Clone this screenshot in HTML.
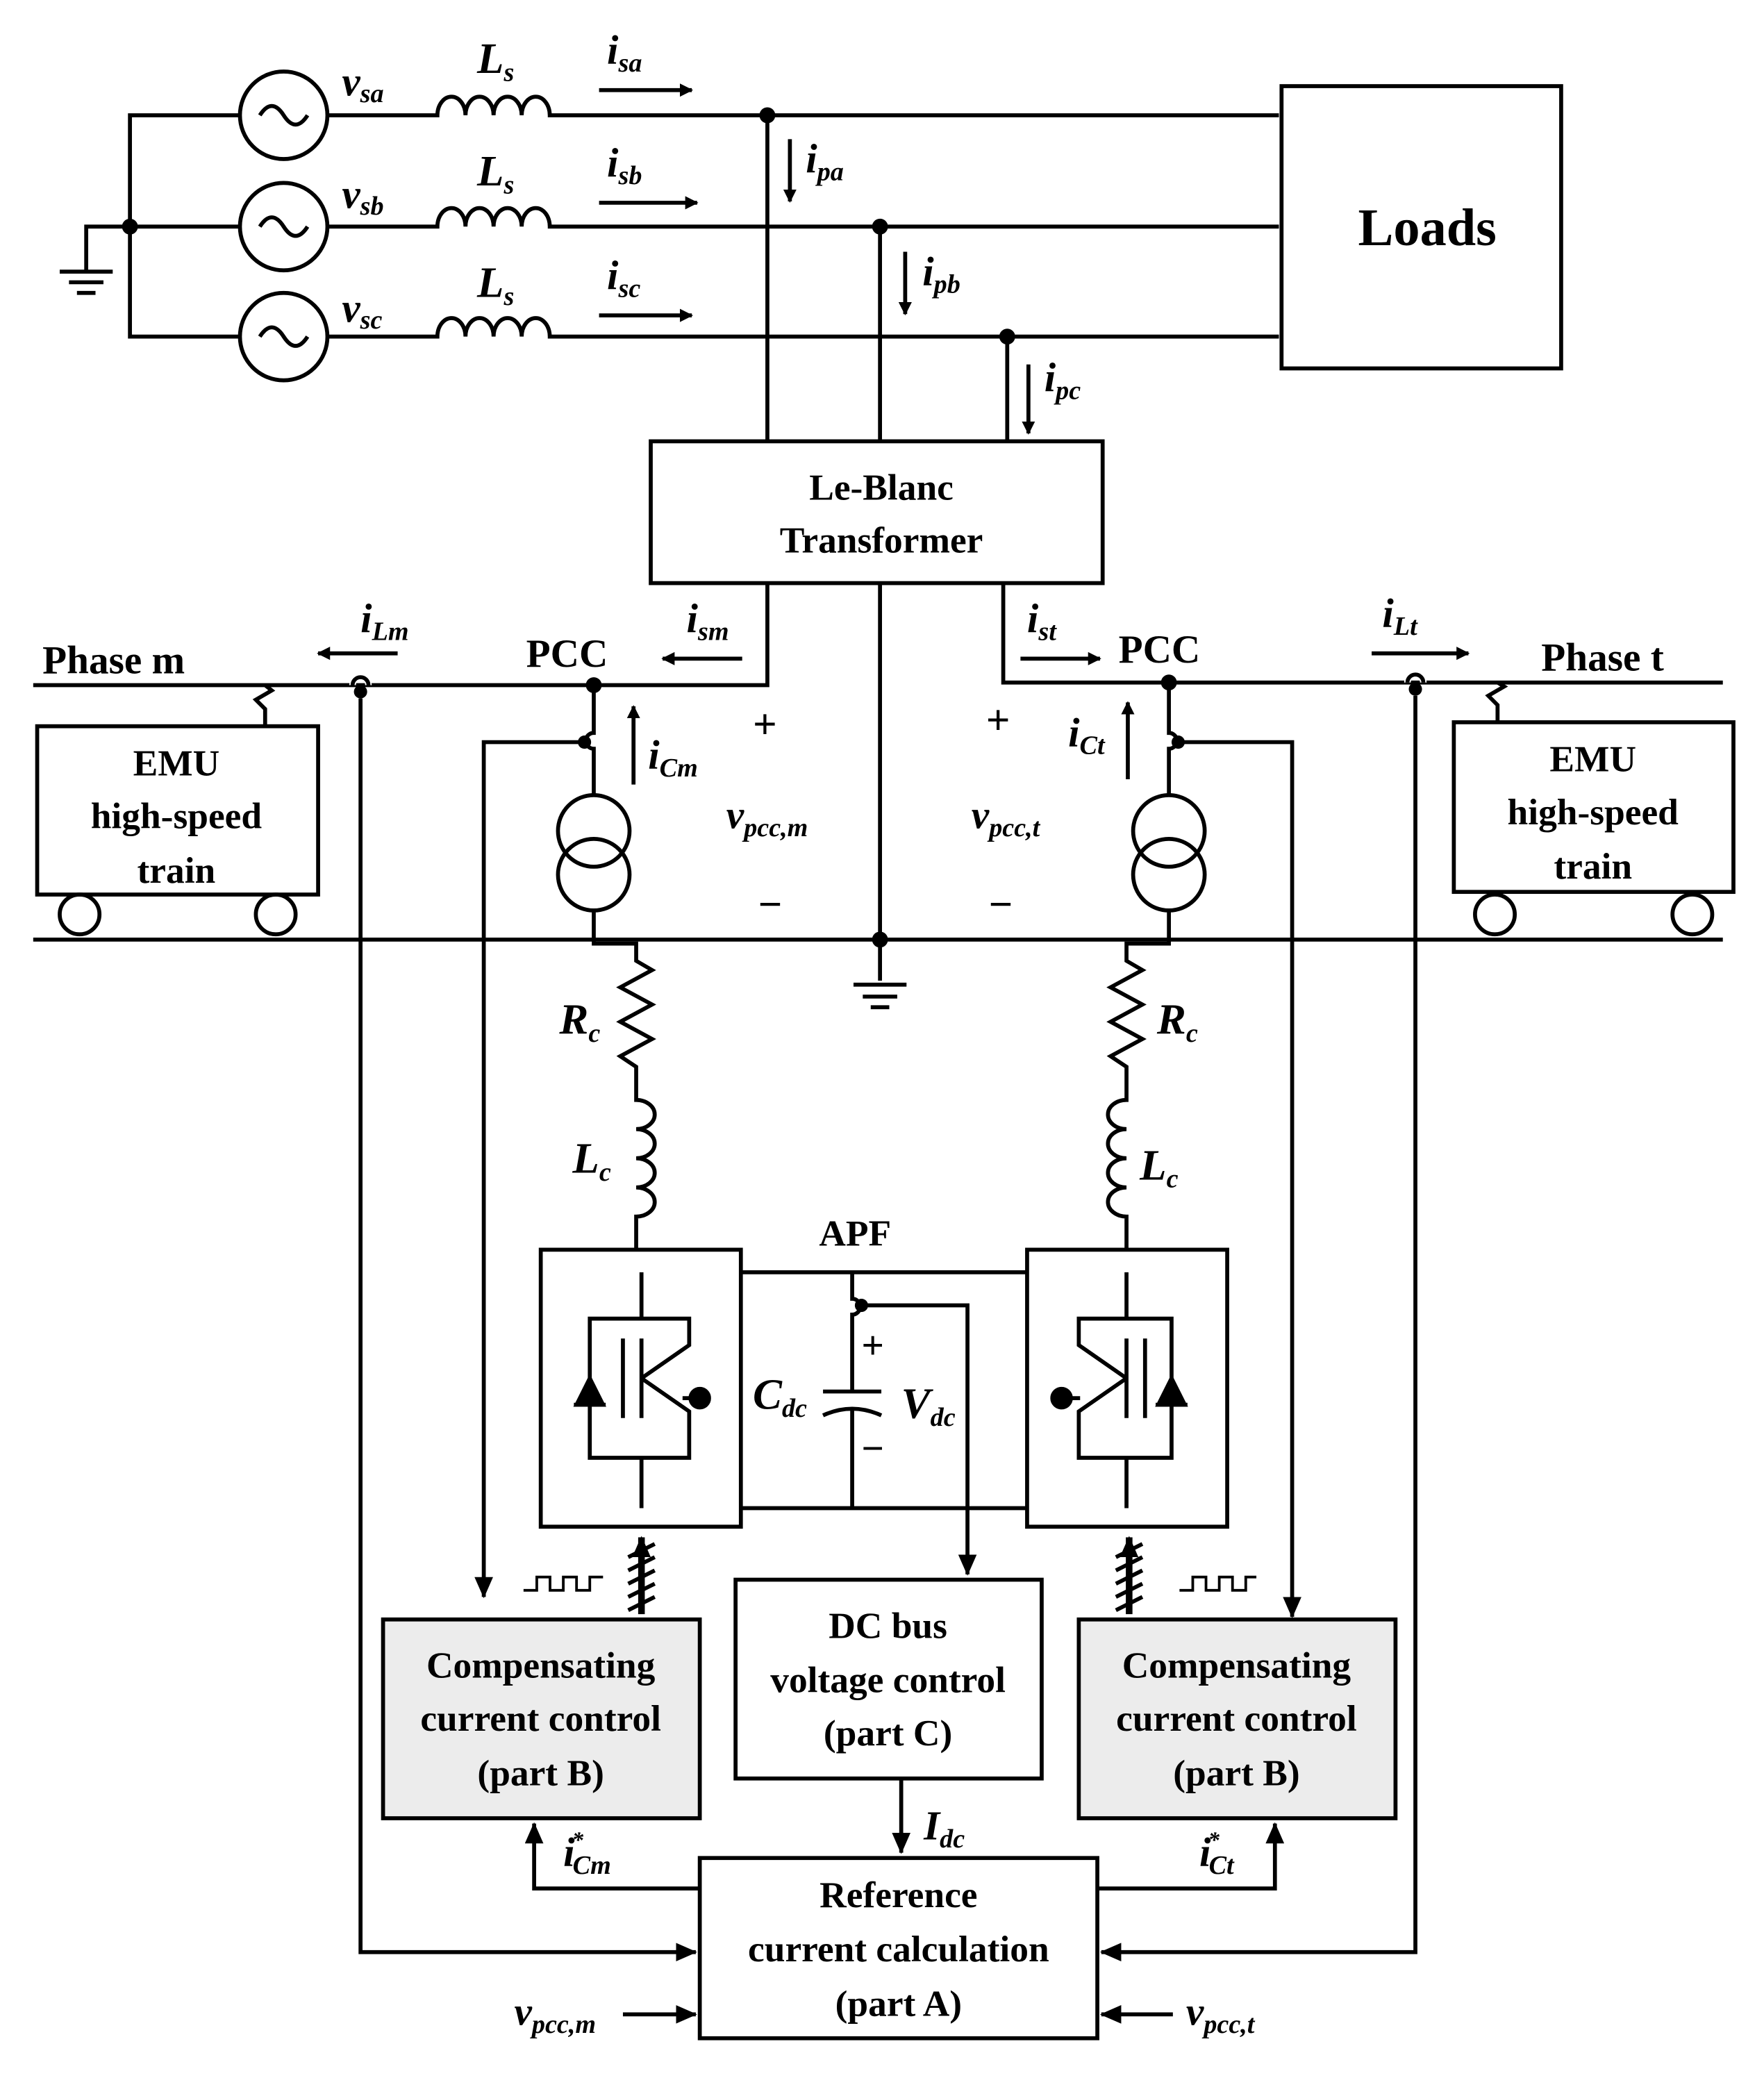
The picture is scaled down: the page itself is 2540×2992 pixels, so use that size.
<!DOCTYPE html>
<html><head><meta charset="utf-8"><style>
html,body{margin:0;padding:0;background:#fff}
svg{display:block}
text{font-family:"Liberation Serif",serif;font-weight:bold;fill:#000}
.it{font-style:italic}
</style></head><body>
<svg width="2540" height="2992" viewBox="0 0 1331 1568" xmlns="http://www.w3.org/2000/svg">
<defs>
<marker id="a" markerWidth="10" markerHeight="10" refX="9" refY="5" orient="auto" markerUnits="userSpaceOnUse"><path d="M0,0 L10,5 L0,10 z" fill="#000"/></marker>
<marker id="b" markerWidth="16" markerHeight="14" refX="15" refY="7" orient="auto" markerUnits="userSpaceOnUse"><path d="M0,0 L16,7 L0,14 z" fill="#000"/></marker>
</defs>
<g stroke="#000" stroke-width="3" fill="none">
<circle cx="214" cy="87" r="33"/><circle cx="214" cy="171" r="33"/><circle cx="214" cy="254" r="33"/>
<path d="M196,87 q9,-14 18,0 t18,0"/><path d="M196,171 q9,-14 18,0 t18,0"/><path d="M196,254 q9,-14 18,0 t18,0"/>
<path d="M181,87 H98 V254 H181 M98,171 H181 M98,171 H65 V205 M45,205 H85 M52,213 H78 M58,221 H72"/>
<path d="M247,87 H330 a10.6,14 0 0 1 21.2,0 a10.6,14 0 0 1 21.2,0 a10.6,14 0 0 1 21.2,0 a10.6,14 0 0 1 21.2,0 H965"/>
<path d="M247,171 H330 a10.6,14 0 0 1 21.2,0 a10.6,14 0 0 1 21.2,0 a10.6,14 0 0 1 21.2,0 a10.6,14 0 0 1 21.2,0 H965"/>
<path d="M247,254 H330 a10.6,14 0 0 1 21.2,0 a10.6,14 0 0 1 21.2,0 a10.6,14 0 0 1 21.2,0 a10.6,14 0 0 1 21.2,0 H965"/>
<path d="M579,87 V333 M664,171 V333 M760,254 V333"/>
<rect x="967" y="65" width="211" height="213"/>
<rect x="491" y="333" width="341" height="107"/>
<path d="M579,440 V517 H25 M757,440 V515 H1300 M664,440 V740 M644,743 H684 M651,752 H677 M657,760 H671"/>
<path d="M25,709 H1300"/>
<rect x="28" y="548" width="212" height="127"/><circle cx="60" cy="690" r="15"/><circle cx="208" cy="690" r="15"/>
<path d="M200,548 V535 L193,528 L205,521 L200,517"/>
<rect x="1097" y="545" width="211" height="128"/><circle cx="1128" cy="690" r="15"/><circle cx="1277" cy="690" r="15"/>
<path d="M1130,545 V532 L1123,525 L1135,518 L1130,515"/>
<path d="M272,527 V1473 H525" marker-end="url(#b)"/>
<path d="M1068,525 V1473 H831" marker-end="url(#b)"/>
<path d="M448,517 V553 a6,6 0 0 0 0,12 V600"/>
<circle cx="448" cy="627" r="27"/><circle cx="448" cy="660" r="27"/>
<path d="M448,687 V712 H480 V725 L492,732 L468,745 L492,758 L468,771 L492,784 L468,797 L480,805 V830 a14,11 0 0 1 0,22 a14,11 0 0 1 0,22 a14,11 0 0 1 0,22 a14,11 0 0 1 0,22 V943"/>
<path d="M441,560 H365 V1205" marker-end="url(#b)"/>
<path d="M882,515 V553 a6,6 0 0 1 0,12 V600"/>
<circle cx="882" cy="627" r="27"/><circle cx="882" cy="660" r="27"/>
<path d="M882,687 V712 H850 V725 L862,732 L838,745 L862,758 L838,771 L862,784 L838,797 L850,805 V830 a14,11 0 0 0 0,22 a14,11 0 0 0 0,22 a14,11 0 0 0 0,22 a14,11 0 0 0 0,22 V943"/>
<path d="M889,560 H975 V1220" marker-end="url(#b)"/>
<rect x="408" y="943" width="151" height="209"/>
<rect x="775" y="943" width="151" height="209"/>
<path d="M559,960 H775 M559,1138 H775"/>
<path d="M643,960 V980 a6,6 0 0 1 0,12 V1050 M621,1050 H665 M621,1068 q22,-10 44,0 M643,1064 V1138"/>
<path d="M650,985 H730 V1188" marker-end="url(#b)"/>
<path d="M484,960 V995 M484,1100 V1138 M470,1010 V1070 M484,1010 V1070 M484,1040 L520,1015 V995 H484 M484,1040 L520,1065 V1100 H484 M484,995 H445 V1100 H484 M515,1055 H530"/>
<path d="M433,1060 H457 M445,1040 L435,1060 H455 Z" fill="#000"/>
<circle cx="528" cy="1055" r="7" fill="#000"/>
<path d="M850,960 V995 M850,1100 V1138 M864,1010 V1070 M850,1010 V1070 M850,1040 L814,1015 V995 H850 M850,1040 L814,1065 V1100 H850 M850,995 H884 V1100 H850 M800,1055 H815"/>
<path d="M872,1060 H896 M884,1040 L874,1060 H894 Z" fill="#000"/>
<circle cx="801" cy="1055" r="7" fill="#000"/>
<rect x="289" y="1222" width="239" height="150" fill="#ececec"/>
<rect x="814" y="1222" width="239" height="150" fill="#ececec"/>
<rect x="555" y="1192" width="231" height="150"/>
<rect x="528" y="1402" width="300" height="136"/>
<path d="M680,1342 V1398" marker-end="url(#b)"/>
<path d="M528,1425 H403 V1376" marker-end="url(#b)"/>
<path d="M828,1425 H962 V1376" marker-end="url(#b)"/>
<path d="M470,1520 H525" marker-end="url(#b)"/>
<path d="M885,1520 H831" marker-end="url(#b)"/>
<path d="M484,1218 V1160" marker-end="url(#b)" stroke-width="5"/>
<path d="M474,1175 L494,1165 M474,1185 L494,1175 M474,1195 L494,1185 M474,1205 L494,1195 M474,1215 L494,1205"/>
<path d="M852,1218 V1160" marker-end="url(#b)" stroke-width="5"/>
<path d="M842,1175 L862,1165 M842,1185 L862,1175 M842,1195 L862,1185 M842,1205 L862,1195 M842,1215 L862,1205"/>
<path d="M395,1200 H405 V1190 H415 V1200 H425 V1190 H435 V1200 H445 V1190 H455" stroke-width="2"/>
<path d="M890,1200 H900 V1190 H910 V1200 H920 V1190 H930 V1200 H940 V1190 H948" stroke-width="2"/>
<path d="M452,68 H522" marker-end="url(#a)"/><path d="M452,153 H526" marker-end="url(#a)"/><path d="M452,238 H522" marker-end="url(#a)"/>
<path d="M596,105 V152" marker-end="url(#a)"/><path d="M683,190 V237" marker-end="url(#a)"/><path d="M776,275 V327" marker-end="url(#a)"/>
<path d="M560,497 H500" marker-end="url(#a)"/><path d="M300,493 H240" marker-end="url(#a)"/>
<path d="M770,497 H830" marker-end="url(#a)"/><path d="M1035,493 H1108" marker-end="url(#a)"/>
<path d="M478,592 V533" marker-end="url(#a)"/><path d="M851,588 V530" marker-end="url(#a)"/>
</g>
<g stroke="#000" stroke-width="3" fill="none">
<path d="M266,517 a6,6 0 0 1 12,0" stroke="#fff" stroke-width="5"/><path d="M266,517 a6,6 0 0 1 12,0"/>
<path d="M1062,515 a6,6 0 0 1 12,0" stroke="#fff" stroke-width="5"/><path d="M1062,515 a6,6 0 0 1 12,0"/>
</g>
<g fill="#000">
<circle cx="98" cy="171" r="6"/><circle cx="579" cy="87" r="6"/><circle cx="664" cy="171" r="6"/><circle cx="760" cy="254" r="6"/>
<circle cx="448" cy="517" r="6"/><circle cx="882" cy="515" r="6"/><circle cx="664" cy="709" r="6"/>
<circle cx="272" cy="522" r="5"/><circle cx="1068" cy="520" r="5"/>
<circle cx="441" cy="560" r="5"/><circle cx="889" cy="560" r="5"/><circle cx="650" cy="985" r="5"/>
</g>
<g font-size="28">
<text x="258" y="72" class="it" font-size="31">v<tspan font-size="20" dy="5">sa</tspan></text>
<text x="258" y="157" class="it" font-size="31">v<tspan font-size="20" dy="5">sb</tspan></text>
<text x="258" y="243" class="it" font-size="31">v<tspan font-size="20" dy="5">sc</tspan></text>
<text x="360" y="55" class="it" font-size="33">L<tspan font-size="20" dy="6">s</tspan></text>
<text x="360" y="140" class="it" font-size="33">L<tspan font-size="20" dy="6">s</tspan></text>
<text x="360" y="224" class="it" font-size="33">L<tspan font-size="20" dy="6">s</tspan></text>
<text x="458" y="48" class="it" font-size="31">i<tspan font-size="20" dy="6">sa</tspan></text>
<text x="458" y="133" class="it" font-size="31">i<tspan font-size="20" dy="6">sb</tspan></text>
<text x="458" y="218" class="it" font-size="31">i<tspan font-size="20" dy="6">sc</tspan></text>
<text x="608" y="130" class="it" font-size="31">i<tspan font-size="20" dy="6">pa</tspan></text>
<text x="696" y="215" class="it" font-size="31">i<tspan font-size="20" dy="6">pb</tspan></text>
<text x="788" y="295" class="it" font-size="31">i<tspan font-size="20" dy="6">pc</tspan></text>
<text x="1077" y="185" font-size="40" text-anchor="middle">Loads</text>
<text x="665" y="377" text-anchor="middle">Le-Blanc</text>
<text x="665" y="417" text-anchor="middle">Transformer</text>
<text x="32" y="508" font-size="30">Phase m</text>
<text x="1163" y="506" font-size="30">Phase t</text>
<text x="397" y="503" font-size="30">PCC</text>
<text x="844" y="500" font-size="30">PCC</text>
<text x="272" y="477" class="it" font-size="31">i<tspan font-size="20" dy="6">Lm</tspan></text>
<text x="518" y="477" class="it" font-size="31">i<tspan font-size="20" dy="6">sm</tspan></text>
<text x="775" y="477" class="it" font-size="31">i<tspan font-size="20" dy="6">st</tspan></text>
<text x="1043" y="473" class="it" font-size="31">i<tspan font-size="20" dy="6">Lt</tspan></text>
<text x="489" y="580" class="it" font-size="31">i<tspan font-size="20" dy="6">Cm</tspan></text>
<text x="806" y="563" class="it" font-size="31">i<tspan font-size="20" dy="6">Ct</tspan></text>
<text x="568" y="557" font-size="32">+</text><text x="744" y="554" font-size="32">+</text>
<text x="572" y="693" font-size="32">−</text><text x="746" y="693" font-size="32">−</text>
<text x="548" y="625" class="it" font-size="30">v<tspan font-size="20" dy="6">pcc,m</tspan></text>
<text x="733" y="625" class="it" font-size="30">v<tspan font-size="20" dy="6">pcc,t</tspan></text>
<g text-anchor="middle">
<text x="133" y="585">EMU</text><text x="133" y="625">high-speed</text><text x="133" y="666">train</text>
<text x="1202" y="582">EMU</text><text x="1202" y="622">high-speed</text><text x="1202" y="663">train</text>
</g>
<text x="422" y="780" class="it" font-size="33">R<tspan font-size="20" dy="6">c</tspan></text>
<text x="873" y="780" class="it" font-size="33">R<tspan font-size="20" dy="6">c</tspan></text>
<text x="432" y="885" class="it" font-size="33">L<tspan font-size="20" dy="6">c</tspan></text>
<text x="860" y="890" class="it" font-size="33">L<tspan font-size="20" dy="6">c</tspan></text>
<text x="618" y="940">APF</text>
<text x="568" y="1063" class="it" font-size="33">C<tspan font-size="20" dy="6">dc</tspan></text>
<text x="680" y="1070" class="it" font-size="33">V<tspan font-size="20" dy="6">dc</tspan></text>
<text x="650" y="1025" font-size="30">+</text><text x="650" y="1103" font-size="30">−</text>
<g text-anchor="middle">
<text x="408" y="1266">Compensating</text><text x="408" y="1306">current control</text><text x="408" y="1347">(part B)</text>
<text x="933" y="1266">Compensating</text><text x="933" y="1306">current control</text><text x="933" y="1347">(part B)</text>
<text x="670" y="1236">DC bus</text><text x="670" y="1277">voltage control</text><text x="670" y="1317">(part C)</text>
<text x="678" y="1439">Reference</text><text x="678" y="1480">current calculation</text><text x="678" y="1521">(part A)</text>
</g>
<text x="697" y="1388" class="it" font-size="31">I<tspan font-size="20" dy="6">dc</tspan></text>
<text x="425" y="1408" class="it" font-size="31">i<tspan font-size="17" dx="-2" dy="-14">*</tspan><tspan font-size="20" dx="-8" dy="20">Cm</tspan></text>
<text x="905" y="1408" class="it" font-size="31">i<tspan font-size="17" dx="-2" dy="-14">*</tspan><tspan font-size="20" dx="-8" dy="20">Ct</tspan></text>
<text x="388" y="1528" class="it" font-size="30">v<tspan font-size="20" dy="6">pcc,m</tspan></text>
<text x="895" y="1528" class="it" font-size="30">v<tspan font-size="20" dy="6">pcc,t</tspan></text>
</g>
</svg>
</body></html>
